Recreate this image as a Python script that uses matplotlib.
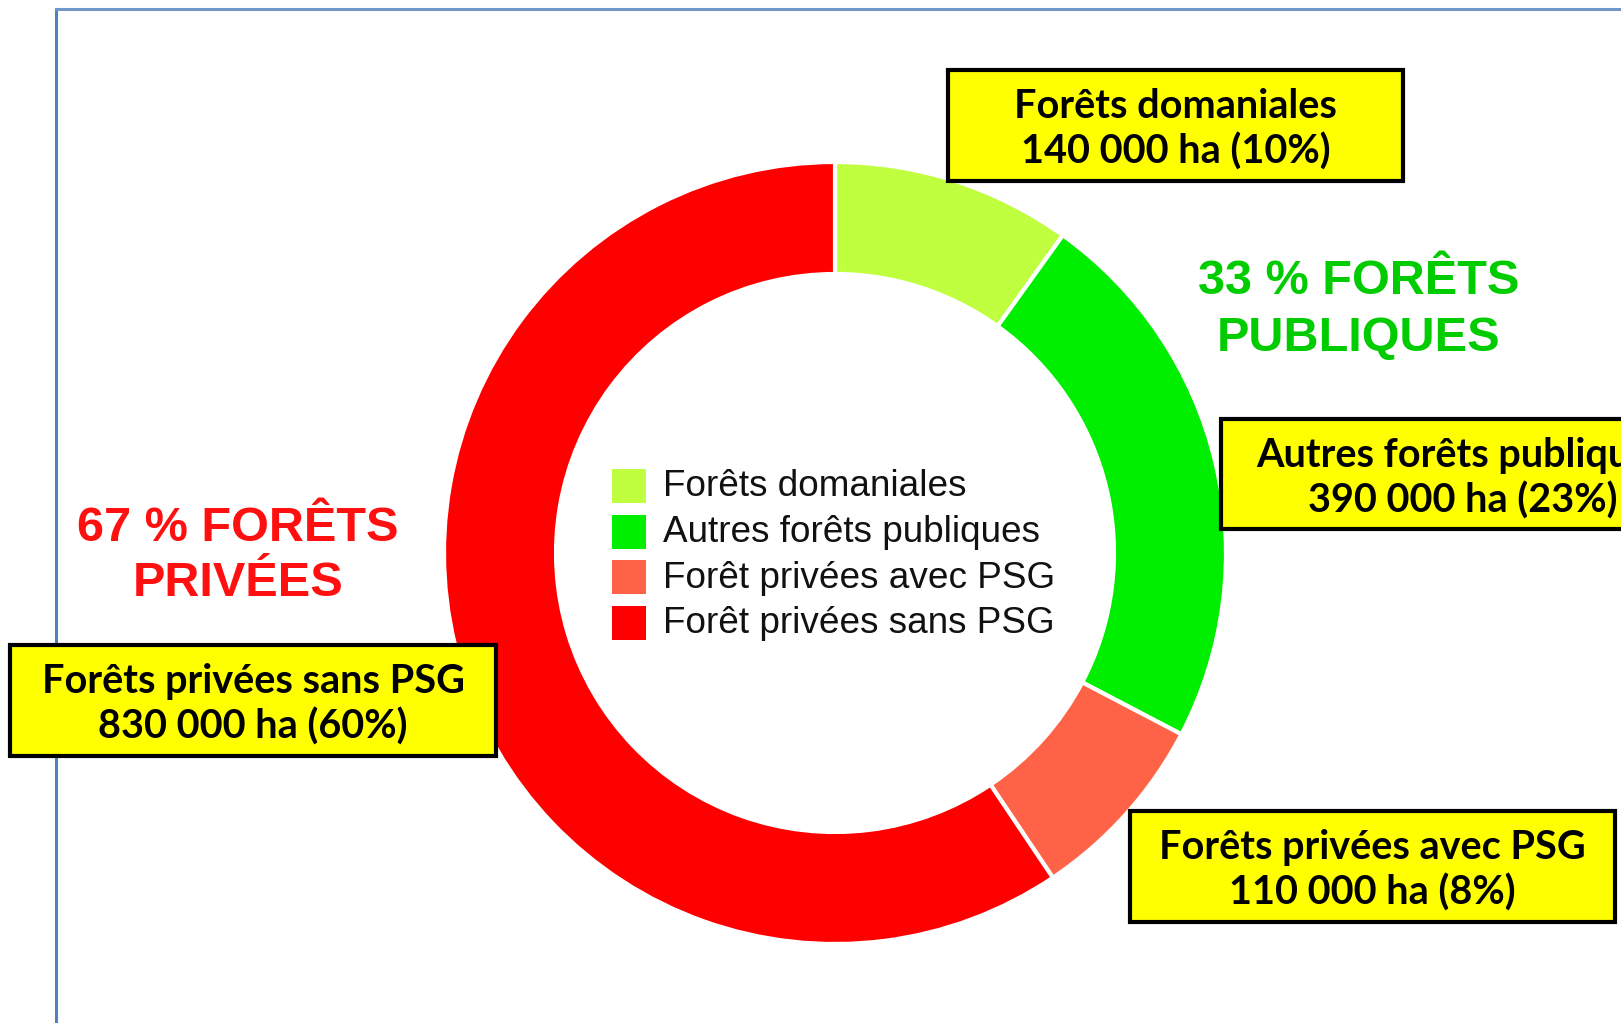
import matplotlib
matplotlib.use("Agg")
import matplotlib.pyplot as plt
from matplotlib.patches import Rectangle
from matplotlib.lines import Line2D

# --- data ---
categories = ["Forêts domaniales", "Autres forêts publiques",
              "Forêts privées avec PSG", "Forêts privées sans PSG"]
legend_labels = ["Forêts domaniales", "Autres forêts publiques",
                 "Forêt privées avec PSG", "Forêt privées sans PSG"]
surface_ha = [140000, 390000, 110000, 830000]
share_pct = [10, 23, 8, 60]
group_labels = ["33 % FORÊTS\nPUBLIQUES", "67 % FORÊTS\nPRIVÉES"]

colors = ["#C0FF40", "#00EE00", "#FF6347", "#FF0000"]

W, H = 1621, 1023
fig = plt.figure(figsize=(W / 100, H / 100), dpi=100)
ax = fig.add_axes([0, 0, 1, 1])

# y axis is inverted below, so counterclock=True turns clockwise on screen
cx, cy, r_out, ring = 835, 553, 391, 112
wedges, _ = ax.pie(share_pct, colors=colors, startangle=-90, counterclock=True,
                   radius=r_out, center=(cx, cy),
                   wedgeprops=dict(width=ring, edgecolor="white", linewidth=3))
ax.set_xlim(0, W)
ax.set_ylim(H, 0)
ax.set_aspect("auto")
ax.axis("off")

# frame lines of the slide
ax.add_line(Line2D([56, 56], [9, H], color="#4F81BD", lw=2.2))
ax.add_line(Line2D([56, W], [9, 9], color="#6F97C8", lw=2.2))

# legend inside the hole
leg_x, leg_y0, leg_dy, sq = 612, 486, 45.5, 34
for i, (lab, col) in enumerate(zip(legend_labels, colors)):
    y = leg_y0 + i * leg_dy
    ax.add_patch(Rectangle((leg_x, y - sq / 2), sq, sq, color=col, lw=0))
    ax.text(leg_x + sq + 17, y + 1, lab, fontsize=26.6, family="Liberation Sans",
            va="center", ha="left", color="#111111")

# yellow callout boxes: (left, top, right, bottom)
# the "Autres" box runs past the right edge, as in the original slide
boxes = [(948, 70, 1403, 181), (1221, 419, 1705, 529),
         (1130, 811, 1615, 922), (10, 645, 496, 756)]
for lab, ha_val, pct, (x0, y0, x1, y1) in zip(categories, surface_ha, share_pct, boxes):
    ax.add_patch(Rectangle((x0, y0), x1 - x0, y1 - y0, fc="#FFFF00",
                           ec="black", lw=3, zorder=3))
    txt = f"{lab}\n{ha_val:,} ha ({pct}%)".replace(",", " ")
    ax.text((x0 + x1) / 2, (y0 + y1) / 2 + 4, txt, ha="center", va="center",
            fontsize=28.5, family="Lato", weight="bold", linespacing=1.25, zorder=4)

ax.text(1359, 310, group_labels[0], ha="center", va="center", fontsize=35,
        family="Liberation Sans", weight="bold", color="#00CC00", linespacing=1.34)
ax.text(238, 556, group_labels[1], ha="center", va="center", fontsize=35,
        family="Liberation Sans", weight="bold", color="#FF1010", linespacing=1.3)

fig.savefig("out.png", dpi=100, facecolor="white")
